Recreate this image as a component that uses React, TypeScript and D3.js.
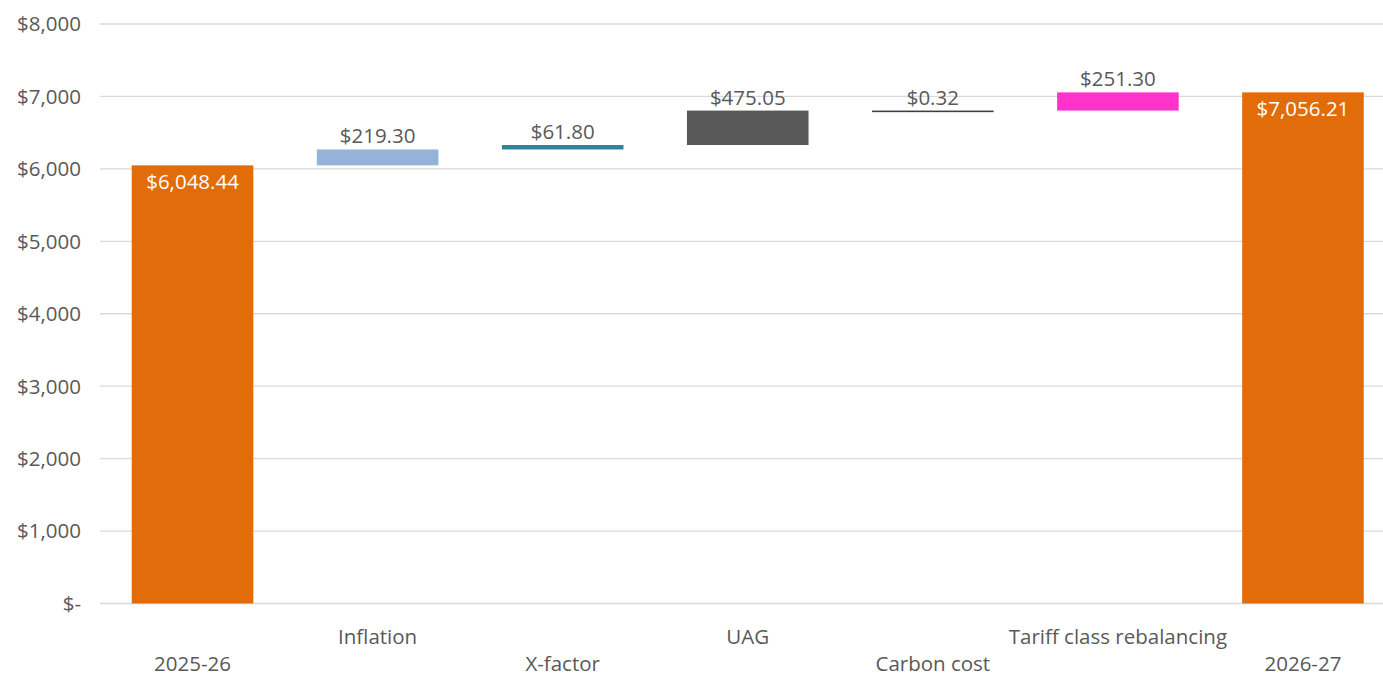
import React from "react";
import * as d3 from "d3";

const categories = ["2025-26", "Inflation", "X-factor", "UAG", "Carbon cost", "Tariff class rebalancing", "2026-27"];
const values = [6048.44, 219.3, 61.8, 475.05, 0.32, 251.3, 7056.21];
const isTotal = [true, false, false, false, false, false, true];
const colors = ["#E36C0A", "#95B3D7", "#31849B", "#595959", "#404040", "#FF33CC", "#E36C0A"];
const yTicks = [0, 1000, 2000, 3000, 4000, 5000, 6000, 7000, 8000];

const W = 1383;
const H = 677;
const FONT = "'Open Sans', sans-serif";
const TEXT = "#595959";
const FS = 20.5;

export default function App() {
  const x = d3.scaleBand<string>().domain(categories).range([100, 1395.5]).paddingInner(0.343).paddingOuter(0.1715);
  const y = d3.scaleLinear().domain([0, 8000]).range([603.5, 24]);

  let running = 0;
  const bars = values.map((v, i) => {
    let y0: number, y1: number;
    if (isTotal[i]) {
      y0 = 0;
      y1 = v;
      running = v;
    } else {
      y0 = running;
      y1 = running + v;
      running = y1;
    }
    return { cat: categories[i], v, y0, y1, total: isTotal[i], color: colors[i] };
  });

  const fmtTick = (d: number) => (d === 0 ? "$-" : "$" + d3.format(",")(d));
  const fmtVal = (d: number) => "$" + d3.format(",.2f")(d);

  return (
    <svg width={W} height={H} style={{ position: "absolute", left: 0, top: 0, background: "#fff" }} fontFamily={FONT}>
      {yTicks.map((t) => (
        <g key={t}>
          <line x1={100} x2={1383} y1={y(t)} y2={y(t)} stroke="#D9D9D9" strokeWidth={1.3} />
          <text x={81} y={y(t)} dy="0.36em" textAnchor="end" fontSize={FS} fill={TEXT}>
            {fmtTick(t)}
          </text>
        </g>
      ))}
      {bars.map((b, i) => {
        const top = y(b.y1);
        const bottom = y(b.y0);
        const h = Math.max(bottom - top, 1.6);
        const bx = x(b.cat)!;
        const bw = x.bandwidth();
        const cx = bx + bw / 2;
        return (
          <g key={b.cat}>
            <rect x={bx} y={top} width={bw} height={h} fill={b.color} />
            {b.total ? (
              <text x={cx} y={top + 24} textAnchor="middle" fontSize={FS} fill="#fff">
                {fmtVal(b.v)}
              </text>
            ) : (
              <text x={cx} y={top - 6} textAnchor="middle" fontSize={FS} fill={TEXT}>
                {fmtVal(b.v)}
              </text>
            )}
            <text x={cx} y={i % 2 === 0 ? 671 : 644} textAnchor="middle" fontSize={FS} fill={TEXT}>
              {b.cat}
            </text>
          </g>
        );
      })}
    </svg>
  );
}
